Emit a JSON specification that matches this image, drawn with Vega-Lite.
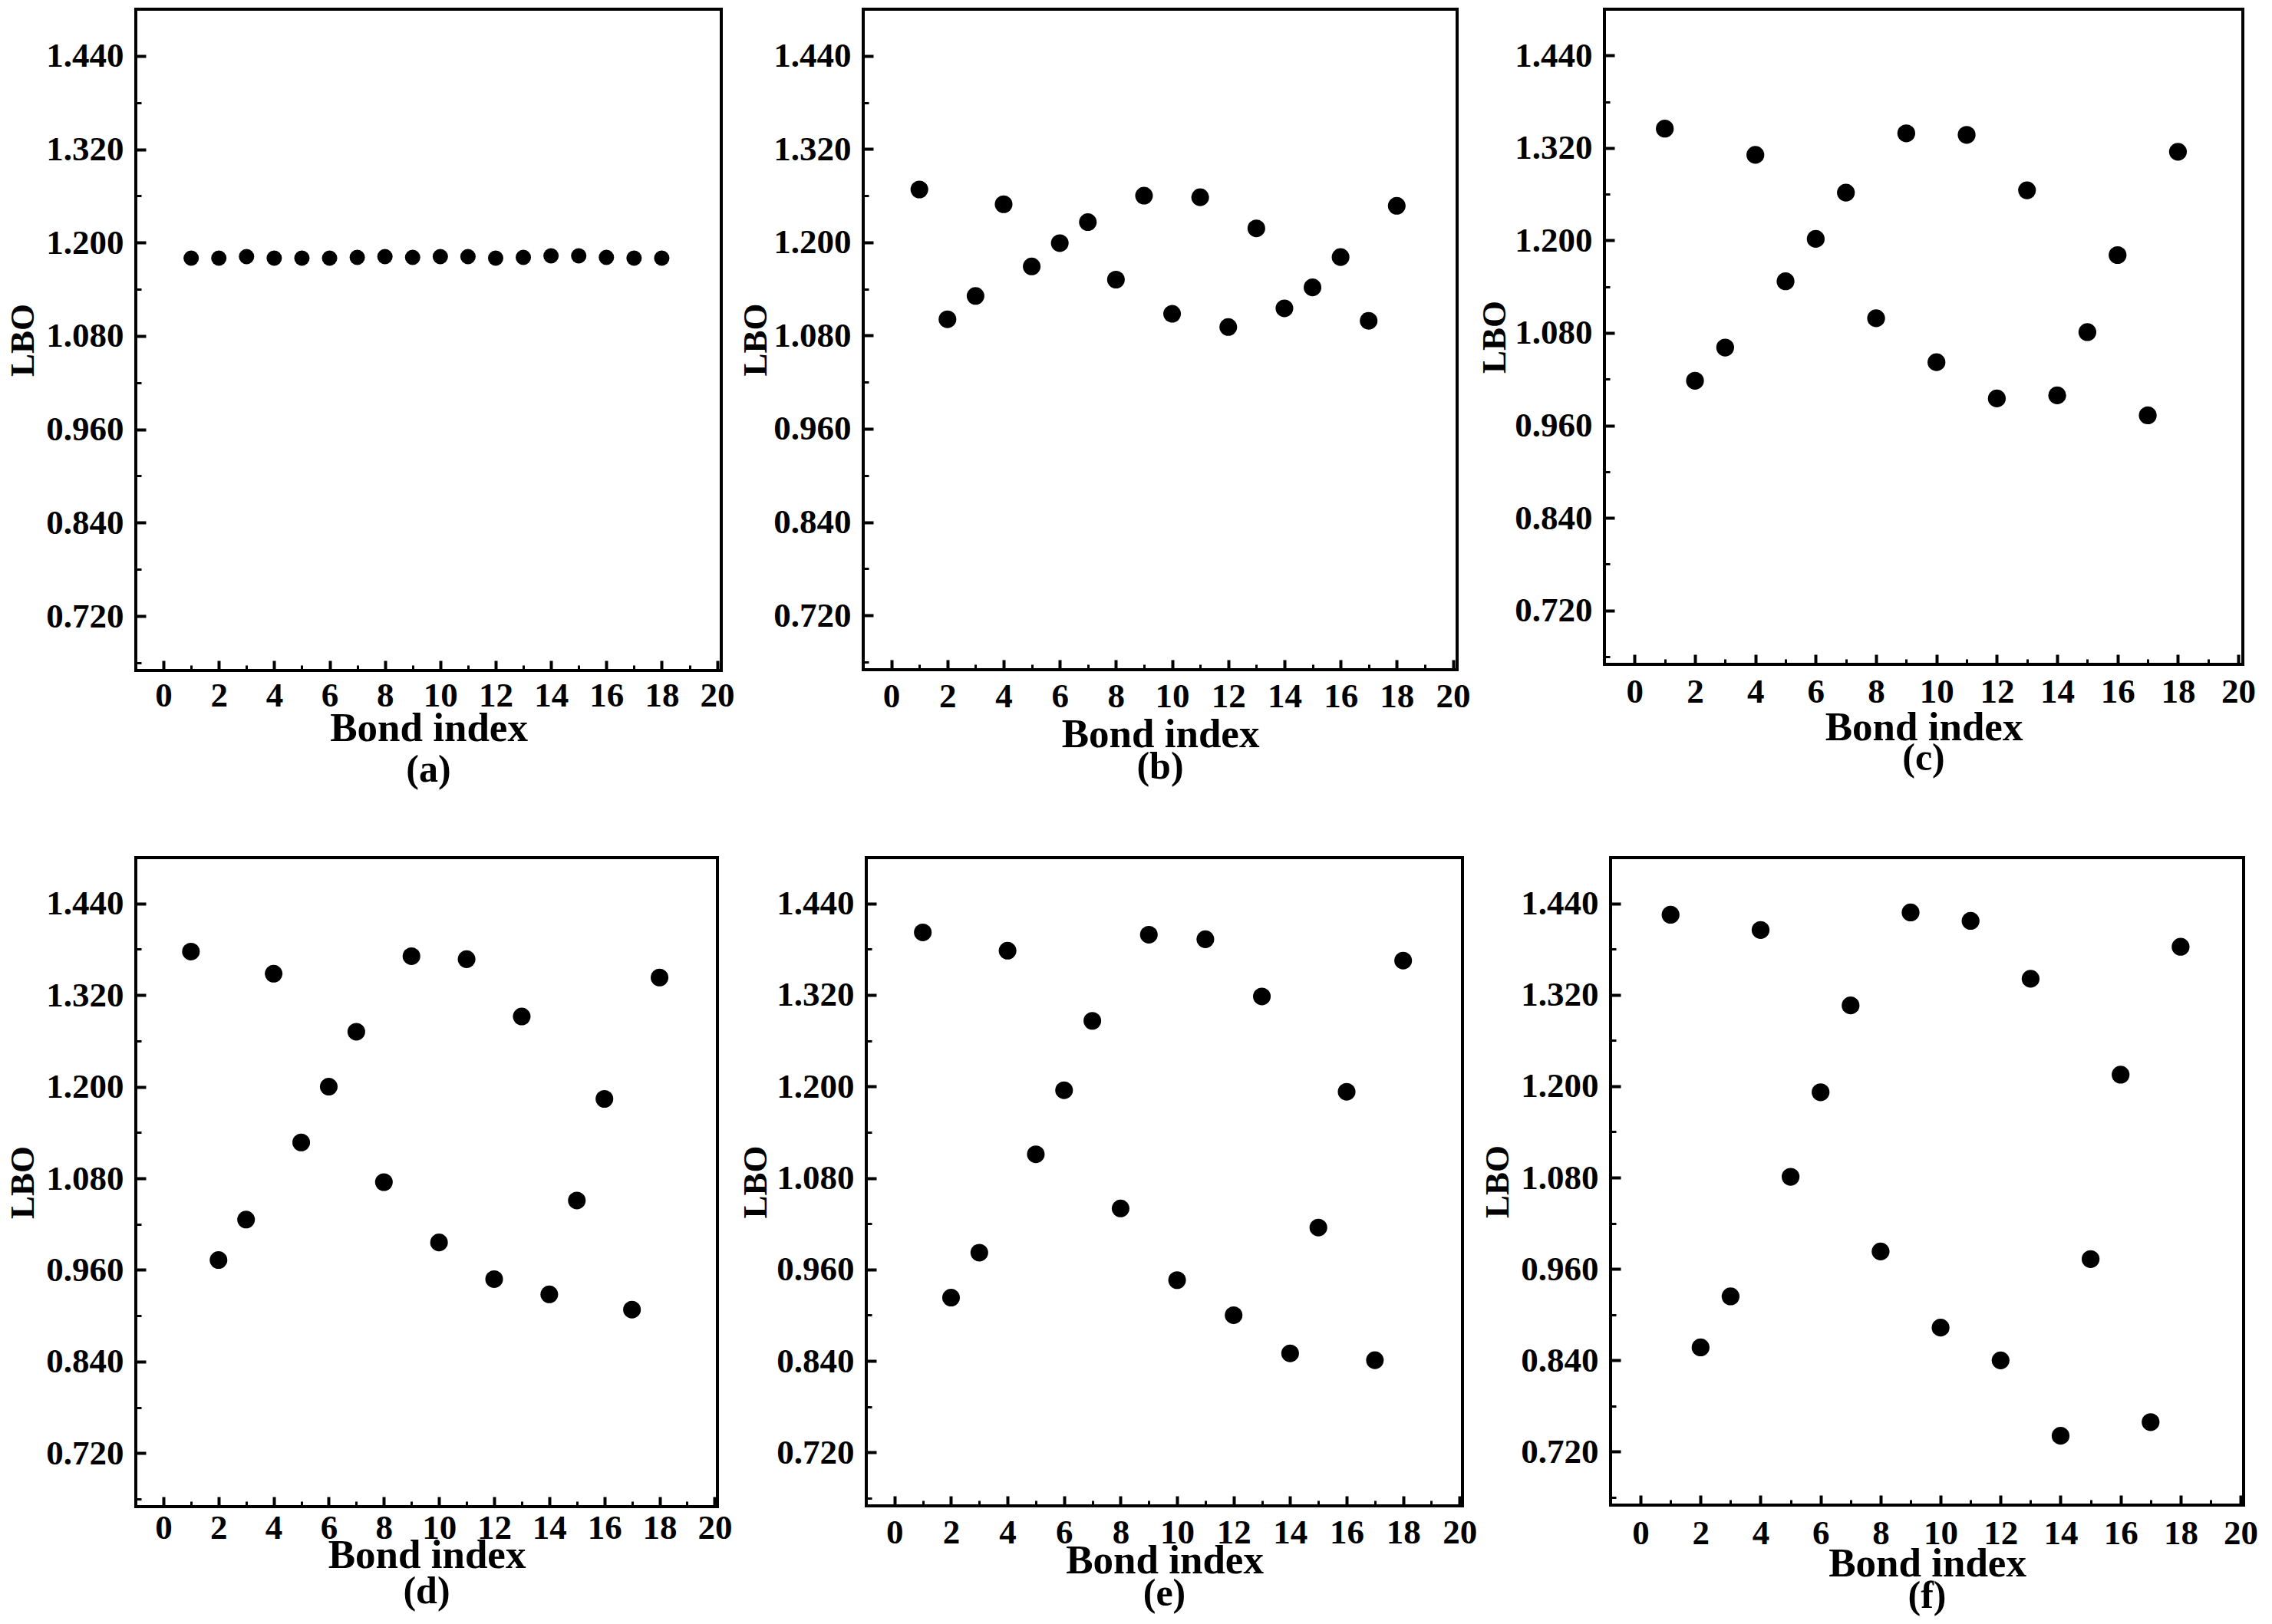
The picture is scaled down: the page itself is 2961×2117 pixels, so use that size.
{
  "$schema": "https://vega.github.io/schema/vega-lite/v6.json",
  "padding": {"left": 5, "top": 10, "right": 5, "bottom": 5},
  "background": "white",
  "config": {
    "font": "Liberation Serif",
    "view": {"stroke": "black", "strokeWidth": 4},
    "title": {"font": "Liberation Serif", "fontSize": 50, "fontWeight": "bold", "color": "black", "orient": "bottom", "offset": -4, "anchor": "middle"},
    "axisX": {"labelFont": "Liberation Serif", "labelFontWeight": "bold", "labelFontSize": 45, "labelColor": "black", "tickColor": "black", "domain": false, "grid": false, "labelFlush": false, "labelOverlap": false, "titleFont": "Liberation Serif", "titleFontSize": 53, "titleFontWeight": "bold", "titleColor": "black"},
    "axisY": {"labelFont": "Liberation Serif", "labelFontWeight": "bold", "labelFontSize": 45, "labelColor": "black", "tickColor": "black", "domain": false, "grid": false, "labelFlush": false, "labelOverlap": false, "titleFont": "Liberation Serif", "titleFontSize": 45, "titleFontWeight": "bold", "titleColor": "black"}
  },
  "datasets": {
    "a": [
      {"bond": 1, "lbo": 1.180}, {"bond": 2, "lbo": 1.180}, {"bond": 3, "lbo": 1.182}, {"bond": 4, "lbo": 1.180}, {"bond": 5, "lbo": 1.180}, {"bond": 6, "lbo": 1.180},
      {"bond": 7, "lbo": 1.181}, {"bond": 8, "lbo": 1.182}, {"bond": 9, "lbo": 1.181}, {"bond": 10, "lbo": 1.182}, {"bond": 11, "lbo": 1.182}, {"bond": 12, "lbo": 1.180},
      {"bond": 13, "lbo": 1.181}, {"bond": 14, "lbo": 1.183}, {"bond": 15, "lbo": 1.183}, {"bond": 16, "lbo": 1.181}, {"bond": 17, "lbo": 1.180}, {"bond": 18, "lbo": 1.180}
    ],
    "b": [
      {"bond": 1, "lbo": 1.268}, {"bond": 2, "lbo": 1.101}, {"bond": 3, "lbo": 1.131}, {"bond": 4, "lbo": 1.249}, {"bond": 5, "lbo": 1.169}, {"bond": 6, "lbo": 1.199},
      {"bond": 7, "lbo": 1.226}, {"bond": 8, "lbo": 1.152}, {"bond": 9, "lbo": 1.260}, {"bond": 10, "lbo": 1.108}, {"bond": 11, "lbo": 1.258}, {"bond": 12, "lbo": 1.091},
      {"bond": 13, "lbo": 1.218}, {"bond": 14, "lbo": 1.115}, {"bond": 15, "lbo": 1.142}, {"bond": 16, "lbo": 1.181}, {"bond": 17, "lbo": 1.099}, {"bond": 18, "lbo": 1.247}
    ],
    "c": [
      {"bond": 1, "lbo": 1.345}, {"bond": 2, "lbo": 1.018}, {"bond": 3, "lbo": 1.061}, {"bond": 4, "lbo": 1.311}, {"bond": 5, "lbo": 1.147}, {"bond": 6, "lbo": 1.202},
      {"bond": 7, "lbo": 1.262}, {"bond": 8, "lbo": 1.099}, {"bond": 9, "lbo": 1.339}, {"bond": 10, "lbo": 1.042}, {"bond": 11, "lbo": 1.337}, {"bond": 12, "lbo": 0.995},
      {"bond": 13, "lbo": 1.265}, {"bond": 14, "lbo": 0.999}, {"bond": 15, "lbo": 1.081}, {"bond": 16, "lbo": 1.181}, {"bond": 17, "lbo": 0.973}, {"bond": 18, "lbo": 1.315}
    ],
    "d": [
      {"bond": 1, "lbo": 1.377}, {"bond": 2, "lbo": 0.973}, {"bond": 3, "lbo": 1.026}, {"bond": 4, "lbo": 1.348}, {"bond": 5, "lbo": 1.127}, {"bond": 6, "lbo": 1.200},
      {"bond": 7, "lbo": 1.272}, {"bond": 8, "lbo": 1.075}, {"bond": 9, "lbo": 1.371}, {"bond": 10, "lbo": 0.996}, {"bond": 11, "lbo": 1.367}, {"bond": 12, "lbo": 0.948},
      {"bond": 13, "lbo": 1.292}, {"bond": 14, "lbo": 0.928}, {"bond": 15, "lbo": 1.051}, {"bond": 16, "lbo": 1.184}, {"bond": 17, "lbo": 0.908}, {"bond": 18, "lbo": 1.343}
    ],
    "e": [
      {"bond": 1, "lbo": 1.402}, {"bond": 2, "lbo": 0.923}, {"bond": 3, "lbo": 0.982}, {"bond": 4, "lbo": 1.378}, {"bond": 5, "lbo": 1.111}, {"bond": 6, "lbo": 1.195},
      {"bond": 7, "lbo": 1.286}, {"bond": 8, "lbo": 1.040}, {"bond": 9, "lbo": 1.399}, {"bond": 10, "lbo": 0.946}, {"bond": 11, "lbo": 1.393}, {"bond": 12, "lbo": 0.900},
      {"bond": 13, "lbo": 1.318}, {"bond": 14, "lbo": 0.850}, {"bond": 15, "lbo": 1.015}, {"bond": 16, "lbo": 1.193}, {"bond": 17, "lbo": 0.841}, {"bond": 18, "lbo": 1.365}
    ],
    "f": [
      {"bond": 1, "lbo": 1.425}, {"bond": 2, "lbo": 0.857}, {"bond": 3, "lbo": 0.924}, {"bond": 4, "lbo": 1.405}, {"bond": 5, "lbo": 1.081}, {"bond": 6, "lbo": 1.192},
      {"bond": 7, "lbo": 1.306}, {"bond": 8, "lbo": 0.983}, {"bond": 9, "lbo": 1.428}, {"bond": 10, "lbo": 0.883}, {"bond": 11, "lbo": 1.417}, {"bond": 12, "lbo": 0.840},
      {"bond": 13, "lbo": 1.341}, {"bond": 14, "lbo": 0.741}, {"bond": 15, "lbo": 0.973}, {"bond": 16, "lbo": 1.215}, {"bond": 17, "lbo": 0.759}, {"bond": 18, "lbo": 1.383}
    ]
  },
  "columns": 3,
  "align": "none",
  "spacing": {"row": 85, "column": 0},
  "concat": [
    {
      "width": 763, "height": 862,
      "title": {"text": "(a)", "offset": 3},
      "data": {"name": "a"},
      "resolve": {"axis": {"x": "independent", "y": "independent"}},
      "layer": [
        {
          "mark": {"type": "point", "filled": true, "color": "black", "opacity": 1, "size": 400},
          "encoding": {
            "x": {"field": "bond", "type": "quantitative", "scale": {"domain": [-1, 20.15], "nice": false, "zero": false},
              "axis": {"orient": "bottom", "values": [0, 2, 4, 6, 8, 10, 12, 14, 16, 18, 20], "format": "d", "tickSize": -13, "tickWidth": 4, "labelPadding": 23, "title": "Bond index", "titlePadding": -6}},
            "y": {"field": "lbo", "type": "quantitative", "scale": {"domain": [0.65, 1.5], "nice": false, "zero": false},
              "axis": {"orient": "left", "values": [0.72, 0.84, 0.96, 1.08, 1.2, 1.32, 1.44], "format": ".3f", "tickSize": -13, "tickWidth": 4, "labelPadding": 29, "title": "LBO", "titlePadding": 7}}
          }
        },
        {
          "mark": {"type": "point", "opacity": 0},
          "encoding": {
            "x": {"field": "bond", "type": "quantitative", "axis": {"orient": "bottom", "values": [1, 3, 5, 7, 9, 11, 13, 15, 17, 19], "labels": false, "tickSize": -7, "tickWidth": 3, "title": null}},
            "y": {"field": "lbo", "type": "quantitative", "axis": {"orient": "left", "values": [0.66, 0.78, 0.9, 1.02, 1.14, 1.26, 1.38], "labels": false, "tickSize": -7, "tickWidth": 3, "title": null}}
          }
        }
      ]
    },
    {
      "width": 774, "height": 861,
      "title": {"text": "(b)", "offset": -9},
      "data": {"name": "b"},
      "resolve": {"axis": {"x": "independent", "y": "independent"}},
      "layer": [
        {
          "mark": {"type": "point", "filled": true, "color": "black", "opacity": 1, "size": 530},
          "encoding": {
            "x": {"field": "bond", "type": "quantitative", "scale": {"domain": [-1, 20.15], "nice": false, "zero": false},
              "axis": {"orient": "bottom", "values": [0, 2, 4, 6, 8, 10, 12, 14, 16, 18, 20], "format": "d", "tickSize": -13, "tickWidth": 4, "labelPadding": 25, "title": "Bond index", "titlePadding": 1}},
            "y": {"field": "lbo", "type": "quantitative", "scale": {"domain": [0.65, 1.5], "nice": false, "zero": false},
              "axis": {"orient": "left", "values": [0.72, 0.84, 0.96, 1.08, 1.2, 1.32, 1.44], "format": ".3f", "tickSize": -13, "tickWidth": 4, "labelPadding": 29, "title": "LBO", "titlePadding": 0}}
          }
        },
        {
          "mark": {"type": "point", "opacity": 0},
          "encoding": {
            "x": {"field": "bond", "type": "quantitative", "axis": {"orient": "bottom", "values": [1, 3, 5, 7, 9, 11, 13, 15, 17, 19], "labels": false, "tickSize": -7, "tickWidth": 3, "title": null}},
            "y": {"field": "lbo", "type": "quantitative", "axis": {"orient": "left", "values": [0.66, 0.78, 0.9, 1.02, 1.14, 1.26, 1.38], "labels": false, "tickSize": -7, "tickWidth": 3, "title": null}}
          }
        }
      ]
    },
    {
      "width": 832, "height": 854,
      "title": {"text": "(c)", "offset": -11},
      "data": {"name": "c"},
      "resolve": {"axis": {"x": "independent", "y": "independent"}},
      "layer": [
        {
          "mark": {"type": "point", "filled": true, "color": "black", "opacity": 1, "size": 540},
          "encoding": {
            "x": {"field": "bond", "type": "quantitative", "scale": {"domain": [-1, 20.15], "nice": false, "zero": false},
              "axis": {"orient": "bottom", "values": [0, 2, 4, 6, 8, 10, 12, 14, 16, 18, 20], "format": "d", "tickSize": -13, "tickWidth": 4, "labelPadding": 26, "title": "Bond index", "titlePadding": -2}},
            "y": {"field": "lbo", "type": "quantitative", "scale": {"domain": [0.65, 1.5], "nice": false, "zero": false},
              "axis": {"orient": "left", "values": [0.72, 0.84, 0.96, 1.08, 1.2, 1.32, 1.44], "format": ".3f", "tickSize": -13, "tickWidth": 4, "labelPadding": 29, "title": "LBO", "titlePadding": 3}}
          }
        },
        {
          "mark": {"type": "point", "opacity": 0},
          "encoding": {
            "x": {"field": "bond", "type": "quantitative", "axis": {"orient": "bottom", "values": [1, 3, 5, 7, 9, 11, 13, 15, 17, 19], "labels": false, "tickSize": -7, "tickWidth": 3, "title": null}},
            "y": {"field": "lbo", "type": "quantitative", "axis": {"orient": "left", "values": [0.66, 0.78, 0.9, 1.02, 1.14, 1.26, 1.38], "labels": false, "tickSize": -7, "tickWidth": 3, "title": null}}
          }
        }
      ]
    },
    {
      "width": 758, "height": 846,
      "title": {"text": "(d)", "offset": -4},
      "data": {"name": "d"},
      "resolve": {"axis": {"x": "independent", "y": "independent"}},
      "layer": [
        {
          "mark": {"type": "point", "filled": true, "color": "black", "opacity": 1, "size": 530},
          "encoding": {
            "x": {"field": "bond", "type": "quantitative", "scale": {"domain": [-1, 20.1], "nice": false, "zero": false},
              "axis": {"orient": "bottom", "values": [0, 2, 4, 6, 8, 10, 12, 14, 16, 18, 20], "format": "d", "tickSize": -13, "tickWidth": 4, "labelPadding": 18, "title": "Bond index", "titlePadding": -13}},
            "y": {"field": "lbo", "type": "quantitative", "scale": {"domain": [0.65, 1.5], "nice": false, "zero": false},
              "axis": {"orient": "left", "values": [0.72, 0.84, 0.96, 1.08, 1.2, 1.32, 1.44], "format": ".3f", "tickSize": -13, "tickWidth": 4, "labelPadding": 29, "title": "LBO", "titlePadding": 7}}
          }
        },
        {
          "mark": {"type": "point", "opacity": 0},
          "encoding": {
            "x": {"field": "bond", "type": "quantitative", "axis": {"orient": "bottom", "values": [1, 3, 5, 7, 9, 11, 13, 15, 17, 19], "labels": false, "tickSize": -7, "tickWidth": 3, "title": null}},
            "y": {"field": "lbo", "type": "quantitative", "axis": {"orient": "left", "values": [0.66, 0.78, 0.9, 1.02, 1.14, 1.26, 1.38], "labels": false, "tickSize": -7, "tickWidth": 3, "title": null}}
          }
        }
      ]
    },
    {
      "width": 777, "height": 845,
      "title": {"text": "(e)", "offset": -8},
      "data": {"name": "e"},
      "resolve": {"axis": {"x": "independent", "y": "independent"}},
      "layer": [
        {
          "mark": {"type": "point", "filled": true, "color": "black", "opacity": 1, "size": 530},
          "encoding": {
            "x": {"field": "bond", "type": "quantitative", "scale": {"domain": [-1, 20.1], "nice": false, "zero": false},
              "axis": {"orient": "bottom", "values": [0, 2, 4, 6, 8, 10, 12, 14, 16, 18, 20], "format": "d", "tickSize": -13, "tickWidth": 4, "labelPadding": 25, "title": "Bond index", "titlePadding": -12}},
            "y": {"field": "lbo", "type": "quantitative", "scale": {"domain": [0.65, 1.5], "nice": false, "zero": false},
              "axis": {"orient": "left", "values": [0.72, 0.84, 0.96, 1.08, 1.2, 1.32, 1.44], "format": ".3f", "tickSize": -13, "tickWidth": 4, "labelPadding": 29, "title": "LBO", "titlePadding": 4}}
          }
        },
        {
          "mark": {"type": "point", "opacity": 0},
          "encoding": {
            "x": {"field": "bond", "type": "quantitative", "axis": {"orient": "bottom", "values": [1, 3, 5, 7, 9, 11, 13, 15, 17, 19], "labels": false, "tickSize": -7, "tickWidth": 3, "title": null}},
            "y": {"field": "lbo", "type": "quantitative", "axis": {"orient": "left", "values": [0.66, 0.78, 0.9, 1.02, 1.14, 1.26, 1.38], "labels": false, "tickSize": -7, "tickWidth": 3, "title": null}}
          }
        }
      ]
    },
    {
      "width": 825, "height": 844,
      "title": {"text": "(f)", "offset": -9},
      "data": {"name": "f"},
      "resolve": {"axis": {"x": "independent", "y": "independent"}},
      "layer": [
        {
          "mark": {"type": "point", "filled": true, "color": "black", "opacity": 1, "size": 540},
          "encoding": {
            "x": {"field": "bond", "type": "quantitative", "scale": {"domain": [-1, 20.1], "nice": false, "zero": false},
              "axis": {"orient": "bottom", "values": [0, 2, 4, 6, 8, 10, 12, 14, 16, 18, 20], "format": "d", "tickSize": -13, "tickWidth": 4, "labelPadding": 27, "title": "Bond index", "titlePadding": -9}},
            "y": {"field": "lbo", "type": "quantitative", "scale": {"domain": [0.65, 1.5], "nice": false, "zero": false},
              "axis": {"orient": "left", "values": [0.72, 0.84, 0.96, 1.08, 1.2, 1.32, 1.44], "format": ".3f", "tickSize": -13, "tickWidth": 4, "labelPadding": 29, "title": "LBO", "titlePadding": 7}}
          }
        },
        {
          "mark": {"type": "point", "opacity": 0},
          "encoding": {
            "x": {"field": "bond", "type": "quantitative", "axis": {"orient": "bottom", "values": [1, 3, 5, 7, 9, 11, 13, 15, 17, 19], "labels": false, "tickSize": -7, "tickWidth": 3, "title": null}},
            "y": {"field": "lbo", "type": "quantitative", "axis": {"orient": "left", "values": [0.66, 0.78, 0.9, 1.02, 1.14, 1.26, 1.38], "labels": false, "tickSize": -7, "tickWidth": 3, "title": null}}
          }
        }
      ]
    }
  ]
}
